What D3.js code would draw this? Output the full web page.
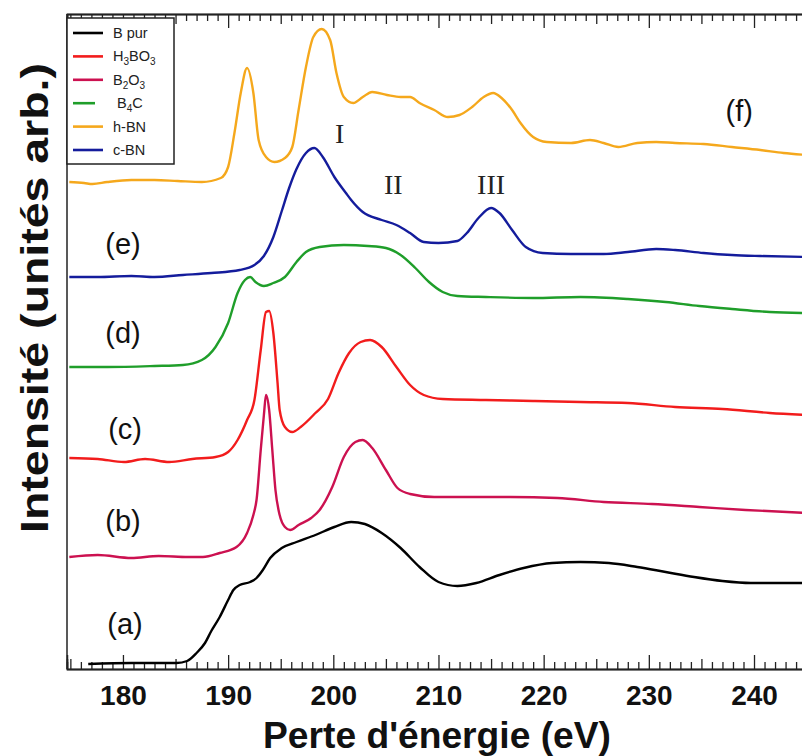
<!DOCTYPE html>
<html><head><meta charset="utf-8">
<script src="https://cdn.jsdelivr.net/npm/d3@7"></script>
<style>
html,body{margin:0;padding:0;background:#fff;}
svg{display:block;font-family:"Liberation Sans",Arial,sans-serif;}
</style></head>
<body>
<svg id="chart" width="802" height="756"></svg>
<script>
// ---- data (energy loss in eV, intensity in arbitrary units) ----
const bPur = [[176.7,5],[180.8,6],[185.1,6],[186.1,8],[187.0,16],[187.8,26],[188.4,38],[189.2,52],[190.0,69],[190.5,79],[191.1,84],[192.1,87],[192.7,91],[193.3,99],[194.0,111],[195.1,121],[196.5,127],[198.3,134],[200.1,142],[201.7,147],[203.0,145],[204.6,136],[206.4,121],[208.2,102],[210.0,87],[211.8,83],[213.6,86],[215.8,94],[218.1,101],[220.8,106],[223.5,107],[226.2,106],[228.9,102],[231.6,97],[234.3,92],[237.0,88],[239.7,86],[245.0,86]];
const b2o3 = [[174.9,112],[177.6,114],[180.8,111],[183.4,113],[186.2,112],[187.6,112],[189.2,116],[190.8,122],[191.8,136],[192.4,154],[192.7,169],[193.1,219],[193.4,254],[193.6,274],[193.9,259],[194.2,219],[194.5,179],[194.9,154],[195.4,142],[195.9,139],[196.7,144],[197.9,151],[198.7,159],[199.9,182],[201.0,212],[202.1,227],[202.8,229],[203.7,221],[205.0,199],[206.1,181],[207.3,175],[209.6,172],[212.2,172],[216.8,172],[221.3,171],[225.7,167],[230.3,165],[234.8,162],[239.2,159],[245.0,156]];
const h3bo3 = [[174.9,211],[177.6,210],[180.1,207],[182.1,210],[184.4,207],[186.6,210],[188.8,212],[190.0,217],[190.9,229],[191.8,249],[192.5,269],[193.1,319],[193.6,357],[193.9,358],[194.3,336],[194.7,286],[194.9,259],[195.4,242],[196.1,237],[196.9,242],[198.3,256],[199.5,270],[200.5,296],[201.5,316],[202.6,327],[203.5,329],[204.6,322],[206.0,302],[207.3,284],[208.6,274],[210.4,270],[214.5,269],[219.0,268],[223.5,267],[228.0,266],[232.5,262],[237.0,260],[241.5,256],[245.0,254]];
const b4c = [[174.9,302],[178.5,302],[183.0,303],[185.7,304],[187.5,309],[188.8,322],[190.0,346],[190.9,376],[191.6,389],[192.1,392],[192.6,387],[193.4,383],[194.3,386],[195.4,392],[196.5,407],[197.4,417],[198.7,422],[201.0,424],[203.3,423],[205.0,421],[206.4,414],[207.8,401],[209.1,387],[210.4,377],[211.8,373],[214.5,372],[219.0,371],[223.5,372],[228.0,370],[231.6,367],[234.8,363],[237.9,360],[241.5,357],[245.0,356]];
const hBN = [[174.9,487],[176.3,486],[177.1,485],[178.5,487],[180.8,489],[183.0,489],[185.2,488],[187.5,487],[189.3,491],[190.0,502],[190.6,536],[191.2,576],[191.8,601],[192.4,576],[192.9,529],[193.6,512],[194.4,507],[195.4,511],[196.1,522],[196.7,559],[197.4,602],[198.1,632],[198.9,640],[199.7,629],[200.3,596],[201.0,572],[201.9,566],[202.8,572],[203.7,577],[205.1,574],[206.4,572],[207.3,572],[208.2,566],[209.6,559],[210.9,552],[212.0,554],[213.2,562],[214.3,572],[215.2,576],[216.0,571],[217.0,559],[217.8,546],[219.0,532],[220.3,527],[222.6,526],[224.4,529],[225.7,526],[227.1,522],[228.9,526],[230.7,527],[232.5,526],[235.2,525],[237.9,522],[240.6,519],[242.8,516],[245.0,514]];
const cBN = [[174.9,392],[177.6,392],[180.8,393],[183.0,392],[185.7,394],[188.4,396],[191.1,399],[192.5,404],[193.4,413],[194.3,432],[195.1,458],[195.8,481],[196.5,500],[197.4,516],[198.2,521],[199.0,512],[200.1,492],[201.2,476],[201.7,469],[202.8,457],[204.6,449],[206.0,444],[207.3,436],[208.6,427],[210.0,426],[211.8,428],[212.7,436],[213.8,451],[215.0,461],[215.8,456],[217.0,439],[218.3,422],[219.9,416],[222.6,415],[225.7,415],[228.0,417],[230.7,420],[232.5,419],[235.2,416],[237.9,414],[240.6,413],[245.0,412]];

const seriesNames = [["B pur"],["H","3","BO","3"],["B","2","O","3"],[" B","4","C"],["h-BN"],["c-BN"]];
const seriesColors = ["#000000","#f21c1c","#cc1150","#1f9e2a","#f5a81c","#141c9c"];
const seriesData = [bPur, h3bo3, b2o3, b4c, hBN, cBN];
const curveLabels = ["(a)","(b)","(c)","(d)","(e)","(f)"];
const curveLabelPos = [[180.2,35],[180.0,138],[180.2,230],[180.0,326],[180.0,415],[238.6,548]];
const peakLabels = ["I","II","III"];
const peakLabelPos = [[200.6,526],[205.7,475],[215.0,475]];
const xTickValues = [180,190,200,210,220,230,240];
const xTitle = "Perte d'énergie (eV)";
const yTitle = "Intensité (unités arb.)";

// ---- layout ----
const svg = d3.select("#chart");
const L = 67, T = 14, B = 669;
const x = d3.scaleLinear().domain([174.68, 245]).range([L, 806.6]);
const y = d3.scaleLinear().domain([0, 655]).range([B, T]);

// frame lines
svg.append("line").attr("x1",L).attr("x2",L).attr("y1",T).attr("y2",B)
  .attr("stroke","#222").attr("stroke-width",1.5);

function ticksAxis(gen, yPos, vals, size) {
  const g = svg.append("g").attr("transform",`translate(0,${yPos})`)
    .call(gen(x).tickValues(vals).tickSize(size).tickFormat(""));
  g.selectAll("path").attr("stroke","#222").attr("stroke-width",1.5);
  g.selectAll("line").attr("stroke","#222").attr("stroke-width",1.3);
  return g;
}
const minorV = d3.range(175, 245).filter(v => v % 5 !== 0);
const midV = d3.range(175, 245, 10);
// bottom (ticks inward = upward)
ticksAxis(d3.axisBottom, B, minorV, -7);
ticksAxis(d3.axisBottom, B, midV, -10);
const gx = svg.append("g").attr("transform",`translate(0,${B})`)
  .call(d3.axisBottom(x).tickValues(xTickValues).tickSize(-14).tickPadding(16));
gx.select("path").attr("stroke","#222").attr("stroke-width",1.5);
gx.selectAll("line").attr("stroke","#222").attr("stroke-width",1.3);
gx.selectAll("text").attr("font-size",28).attr("font-weight","bold").attr("fill","#111")
  .attr("font-family","'Liberation Sans',Arial,sans-serif");
// top (ticks inward = downward)
ticksAxis(d3.axisTop, T, minorV, -7);
ticksAxis(d3.axisTop, T, midV, -10);
ticksAxis(d3.axisTop, T, xTickValues, -14);

// curves
const line = d3.line().x(d => x(d[0])).y(d => y(d[1])).curve(d3.curveMonotoneX);
svg.append("g").selectAll("path").data(seriesData).join("path")
  .attr("d", line).attr("fill","none")
  .attr("stroke",(d,i)=>seriesColors[i]).attr("stroke-width",2.4)
  .attr("stroke-linejoin","round");

// curve labels
svg.append("g").selectAll("text").data(curveLabels).join("text")
  .attr("x",(d,i)=>x(curveLabelPos[i][0])).attr("y",(d,i)=>y(curveLabelPos[i][1]))
  .attr("text-anchor","middle").attr("font-size",29).attr("fill","#111")
  .text(d=>d);

// peak labels (serif roman numerals)
svg.append("g").selectAll("text").data(peakLabels).join("text")
  .attr("x",(d,i)=>x(peakLabelPos[i][0])).attr("y",(d,i)=>y(peakLabelPos[i][1]))
  .attr("text-anchor","middle").attr("font-size",28)
  .attr("font-family","'Liberation Serif','Times New Roman',serif").attr("fill","#222")
  .text(d=>d);

// legend
const lg = svg.append("g");
lg.append("rect").attr("x",L).attr("y",18).attr("width",107).attr("height",146)
  .attr("fill","#fff").attr("stroke","#222").attr("stroke-width",1.5);
seriesNames.forEach((parts,i)=>{
  const yy = 33 + i*23.4;
  lg.append("line").attr("x1",73).attr("x2", i===3 ? 95 : 103).attr("y1",yy).attr("y2",yy)
    .attr("stroke",seriesColors[i]).attr("stroke-width",2.6);
  const t = lg.append("text").attr("x",113).attr("y",yy+5).attr("font-size",14.5).attr("fill","#222")
    .attr("xml:space","preserve");
  parts.forEach((p,j)=>{
    const isSub = j % 2 === 1;
    t.append("tspan").attr("font-size", isSub ? 10 : 14.5)
      .attr("dy", isSub ? 4 : (j>0 ? -4 : 0)).text(p);
  });
});

// axis titles
svg.append("text").attr("x",437).attr("y",748).attr("text-anchor","middle")
  .attr("font-size",36).attr("font-weight","bold").attr("fill","#111")
  .attr("textLength",348).attr("lengthAdjust","spacingAndGlyphs").text(xTitle);
svg.append("text").attr("transform","translate(48,298) rotate(-90)").attr("text-anchor","middle")
  .attr("font-size",38).attr("font-weight","bold").attr("fill","#111")
  .attr("textLength",470).attr("lengthAdjust","spacingAndGlyphs").text(yTitle);
</script>
</body></html>
